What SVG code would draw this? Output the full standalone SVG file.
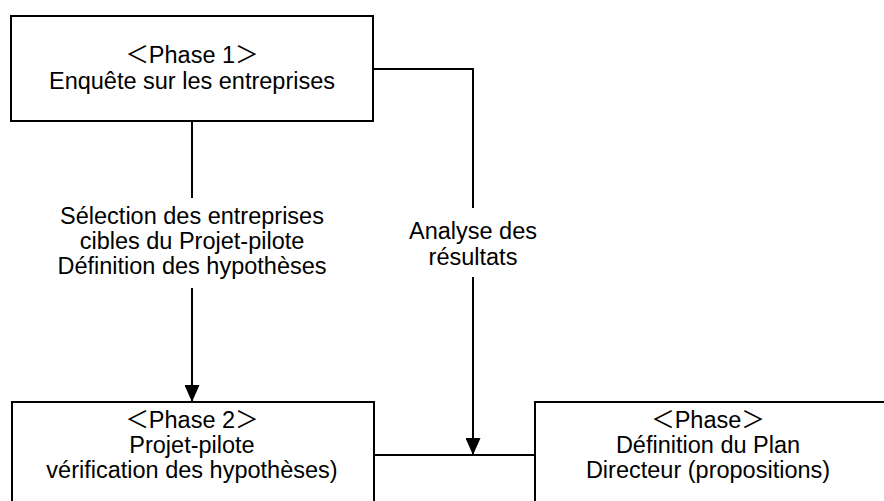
<svg xmlns="http://www.w3.org/2000/svg" width="884" height="501" viewBox="0 0 884 501">
<style>
.box{fill:#fff;stroke:#000;stroke-width:2}
.ln{fill:none;stroke:#000;stroke-width:2}
text{font-family:"Liberation Sans",Arial,"Noto Sans CJK JP",sans-serif;font-size:23.5px;fill:#000;text-anchor:middle}
</style>
<defs>
<marker id="ah" markerUnits="userSpaceOnUse" markerWidth="17" markerHeight="15" viewBox="0 0 17 15" refX="17" refY="7.5" orient="auto">
<path d="M0,0 L17,7.5 L0,15 Z" fill="#000"/>
</marker>
</defs>
<rect width="884" height="501" fill="#fff"/>
<g id="connectors">
<line class="ln" x1="192" y1="121" x2="192" y2="198"/>
<line class="ln" x1="192" y1="288" x2="192" y2="402" marker-end="url(#ah)"/>
<polyline class="ln" points="373,69 473,69 473,208"/>
<line class="ln" x1="473" y1="277" x2="473" y2="455" marker-end="url(#ah)"/>
<line class="ln" x1="374" y1="455" x2="535" y2="455"/>
<g id="label1">
<text x="192" y="224">Sélection des entreprises</text>
<text x="192" y="249">cibles du Projet-pilote</text>
<text x="192" y="274">Définition des hypothèses</text>
</g>
<g id="label2">
<text x="473" y="239">Analyse des</text>
<text x="473" y="265">résultats</text>
</g>
</g>
<g id="phase1">
<rect class="box" x="11" y="16" width="362" height="105"/>
<text x="192" y="63">＜Phase 1＞</text>
<text x="192" y="89">Enquête sur les entreprises</text>
</g>
<g id="phase2">
<rect class="box" x="12" y="402" width="362" height="110"/>
<text x="192" y="428">＜Phase 2＞</text>
<text x="192" y="453">Projet-pilote</text>
<text x="192" y="478">vérification des hypothèses)</text>
</g>
<g id="phase3">
<rect class="box" x="535" y="402" width="360" height="110"/>
<text x="708" y="428">＜Phase＞</text>
<text x="708" y="453">Définition du Plan</text>
<text x="708" y="478">Directeur (propositions)</text>
</g>
</svg>
